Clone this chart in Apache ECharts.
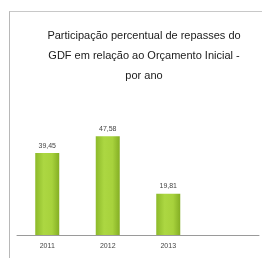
<!DOCTYPE html>
<html>
<head>
<meta charset="utf-8">
<script src="https://cdn.jsdelivr.net/npm/echarts@6/dist/echarts.min.js"></script>
<style>
  html, body { margin: 0; padding: 0; background: #fff; }
  #frame { position: absolute; left: 9px; top: 11px; width: 253px; height: 247px;
           border-left: 1px solid #b8b8b8; border-top: 1px solid #c8c8c8; }
  #chart { position: absolute; left: 0; top: 0; width: 262px; height: 258px; }
</style>
</head>
<body>
<div id="frame"></div>
<div id="chart"></div>
<script>
// dados
const anos = ['2011', '2012', '2013', '']
const percentuais = [39.45, 47.58, 19.81, null]
const rotulos = ['39,45', '47,58', '19,81', '']

const chart = echarts.init(document.getElementById('chart'))

const corBarra = new echarts.graphic.LinearGradient(0, 0, 1, 0, [
  { offset: 0, color: '#8dba2a' },
  { offset: 0.35, color: '#acd742' },
  { offset: 0.7, color: '#a7d23c' },
  { offset: 1, color: '#84ae24' }
])

const option = {
  backgroundColor: 'transparent',
  animation: false,
  title: {
    text: 'Participação percentual de repasses do\nGDF em relação ao Orçamento Inicial -\npor ano',
    left: 139,
    top: 21,
    textAlign: 'center',
    textStyle: {
      fontFamily: 'Liberation Sans, sans-serif',
      fontSize: 11,
      fontWeight: 'normal',
      color: '#1a1a1a',
      lineHeight: 20
    }
  },
  grid: { left: 17, right: 3, top: 100, bottom: 23, containLabel: false },
  xAxis: {
    type: 'category',
    data: anos,
    axisLine: { lineStyle: { color: '#9a9a9a', width: 1 } },
    axisTick: { show: false },
    axisLabel: {
      color: '#444',
      fontSize: 7,
      fontFamily: 'Liberation Sans, sans-serif',
      margin: 8
    }
  },
  yAxis: {
    type: 'value',
    min: 0,
    max: 65,
    show: false,
    splitLine: { show: false }
  },
  series: [{
    type: 'bar',
    data: percentuais,
    barWidth: 24,
    itemStyle: { color: corBarra },
    label: {
      show: true,
      position: 'top',
      distance: 4,
      color: '#444',
      fontSize: 7,
      fontFamily: 'Liberation Sans, sans-serif',
      formatter: (p) => rotulos[p.dataIndex]
    }
  }]
}

chart.setOption(option)
</script>
</body>
</html>
